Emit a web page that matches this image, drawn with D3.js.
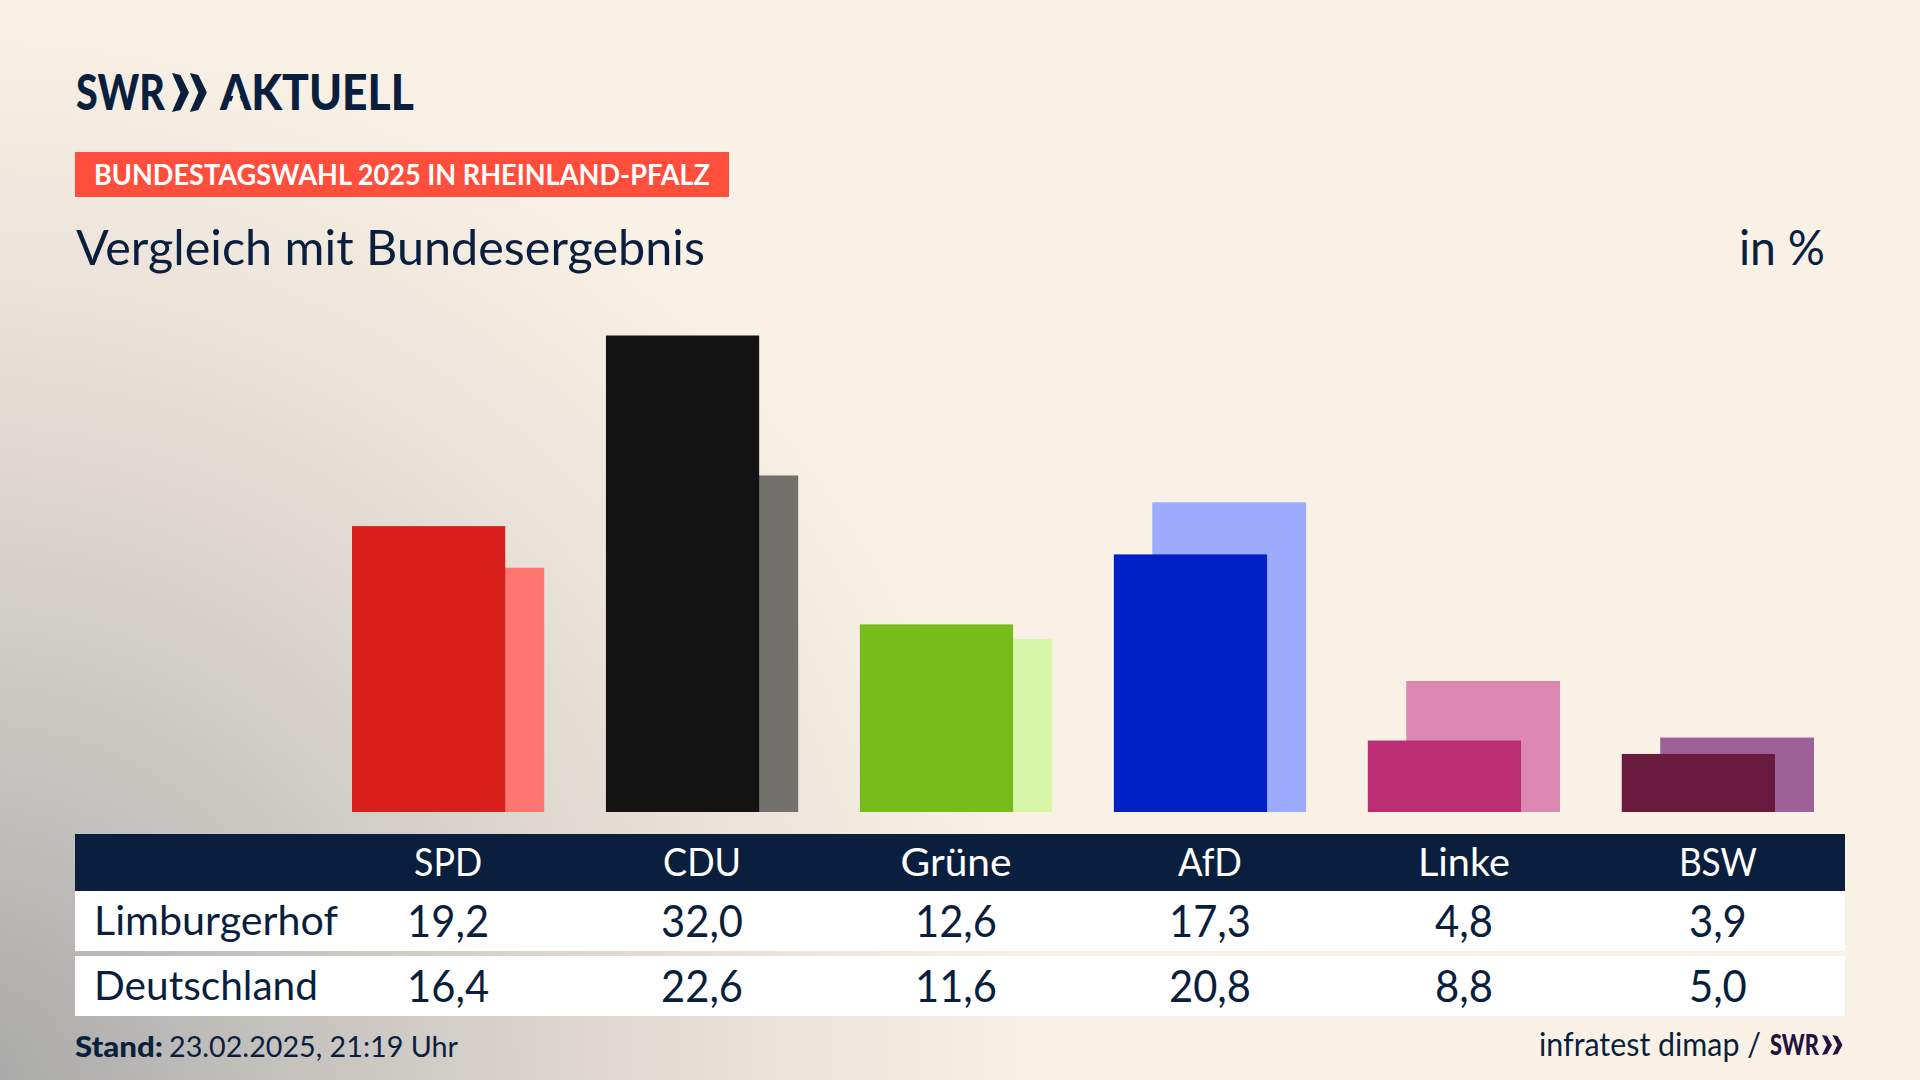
<!DOCTYPE html>
<html>
<head>
<meta charset="utf-8">
<script src="https://cdn.jsdelivr.net/npm/d3@7"></script>
<style>
  html, body { margin: 0; padding: 0; background: #faf1e6; overflow: hidden; }
  svg { display: block; }
  text { font-family: Lato, "Noto Sans", sans-serif; }
</style>
</head>
<body>
<div id="chart"></div>
<script>
// Data
const parties = ["SPD", "CDU", "Grüne", "AfD", "Linke", "BSW"];
const limburgerhof = [19.2, 32.0, 12.6, 17.3, 4.8, 3.9];
const deutschland = [16.4, 22.6, 11.6, 20.8, 8.8, 5.0];
const rowNames = ["Limburgerhof", "Deutschland"];

// Colours per party
const darkColors = ["#d91f1c", "#131313", "#78bc1b", "#0021c8", "#bb2e73", "#6b1a3f"];
const lightColors = ["#ff7570", "#72716e", "#d6f5a8", "#9dabff", "#dd87b3", "#9d6097"];

// Drawn widths of the header labels, the original typeface runs narrower than Lato
const headerWidths = [68, 78, 111, 64, 92, 78];

const width = 1920;
const height = 1080;
const navy = "#0a1f3e";

const svg = d3.select("#chart").append("svg")
    .attr("width", width)
    .attr("height", height);

// Background: cream with a grey glow from the bottom left corner
const grad = svg.append("defs").append("radialGradient")
    .attr("id", "bg")
    .attr("gradientUnits", "userSpaceOnUse")
    .attr("cx", -40).attr("cy", 1100).attr("r", 1350);
[[0, "#a6a6a6"], [0.22, "#c2c0bd"], [0.42, "#d8d3cc"], [0.62, "#ece4da"], [0.82, "#faf1e6"]].forEach(s => {
    grad.append("stop").attr("offset", s[0]).attr("stop-color", s[1]);
});
svg.append("rect").attr("width", width).attr("height", height).attr("fill", "url(#bg)");

// Scales
const x = d3.scaleBand().domain(parties).range([352, 1814]).paddingInner(0.243).paddingOuter(0);
const y = d3.scaleLinear().domain([0, 32]).range([812, 335.5]);
const barWidth = x.bandwidth() * 0.797;
const barShift = x.bandwidth() * 0.2;
const fmt = d3.formatLocale({ decimal: ",", thousands: ".", grouping: [3], currency: ["", " €"] }).format(".1f");

// Bars: Bundesergebnis behind and shifted right, local result in front
svg.selectAll(".bar-de")
    .data(parties)
    .enter().append("rect")
    .attr("class", "bar-de")
    .attr("x", d => x(d) + barShift)
    .attr("y", (d, i) => y(deutschland[i]))
    .attr("width", x.bandwidth() - barShift)
    .attr("height", (d, i) => y(0) - y(deutschland[i]))
    .attr("fill", (d, i) => lightColors[i]);

svg.selectAll(".bar-local")
    .data(parties)
    .enter().append("rect")
    .attr("class", "bar-local")
    .attr("x", d => x(d))
    .attr("y", (d, i) => y(limburgerhof[i]))
    .attr("width", barWidth)
    .attr("height", (d, i) => y(0) - y(limburgerhof[i]))
    .attr("fill", (d, i) => darkColors[i]);

// Text helper, fit fixes the drawn width because the original typeface is narrower
function label(txt, xPos, yPos, size, opts = {}) {
    const t = svg.append("text")
        .attr("x", xPos)
        .attr("y", yPos)
        .attr("font-size", size)
        .attr("font-weight", opts.weight || 400)
        .attr("fill", opts.fill || navy)
        .attr("text-anchor", opts.anchor || "start")
        .text(txt);
    if (opts.fit) t.attr("textLength", opts.fit).attr("lengthAdjust", "spacingAndGlyphs");
    return t;
}

function chevrons(xPos, yPos, w, h, t, fill) {
    [0, w + t * 0.1].forEach(dx => {
        const x0 = xPos + dx;
        svg.append("path")
            .attr("d", `M${x0},${yPos}L${x0 + t},${yPos + h * 0.05}L${x0 + w},${yPos + h / 2}L${x0 + t},${yPos + h * 0.95}L${x0},${yPos + h}L${x0 + w - t},${yPos + h / 2}Z`)
            .attr("fill", fill);
    });
}

// Logo
label("SWR", 76, 110, 50, { weight: 900, fit: 89 });
chevrons(172, 73, 17, 39, 8.5, navy);
label("AKTUELL", 220, 110, 50, { weight: 900, fit: 194 });
// the logo's A has no crossbar
svg.append("path").attr("d", "M236.5,86L228.5,111L244.5,111Z").attr("fill", "#f9f1e6");

// Tag and title
svg.append("rect").attr("x", 75).attr("y", 152).attr("width", 654).attr("height", 45).attr("fill", "#ff4f3c");
label("BUNDESTAGSWAHL 2025 IN RHEINLAND-PFALZ", 94, 185, 28, { weight: 700, fill: "#ffffff", fit: 616 });
label("Vergleich mit Bundesergebnis", 76, 265, 48, { fit: 629 });
label("in %", 1739, 265, 48, { fit: 86 });

// Table
svg.append("rect").attr("x", 75).attr("y", 834).attr("width", 1770).attr("height", 57).attr("fill", navy);
svg.append("rect").attr("x", 75).attr("y", 891).attr("width", 1770).attr("height", 60).attr("fill", "#ffffff");
svg.append("rect").attr("x", 75).attr("y", 956).attr("width", 1770).attr("height", 60).attr("fill", "#ffffff");

const center = d => x(d) + x.bandwidth() / 2;
const valueFit = s => (s.length === 4 ? 82 : 58);
parties.forEach((p, i) => {
    label(p, center(p), 876, 38, { anchor: "middle", fill: "#ffffff", fit: headerWidths[i] });
    label(fmt(limburgerhof[i]), center(p), 937, 44, { anchor: "middle", fit: valueFit(fmt(limburgerhof[i])) });
    label(fmt(deutschland[i]), center(p), 1002, 44, { anchor: "middle", fit: valueFit(fmt(deutschland[i])) });
});
label(rowNames[0], 94, 935, 41, { fit: 244 });
label(rowNames[1], 94, 1000, 41, { fit: 224 });

// Footer
label("Stand:", 75, 1057, 29, { weight: 900, fit: 88 });
label("23.02.2025, 21:19 Uhr", 169, 1057, 29, { fit: 289 });
label("infratest dimap /", 1539, 1056, 32, { fit: 222 });
label("SWR", 1770, 1055, 28, { weight: 900, fill: "#24123f", fit: 49 });
chevrons(1822, 1035, 10, 20, 5, "#24123f");
</script>
</body>
</html>
